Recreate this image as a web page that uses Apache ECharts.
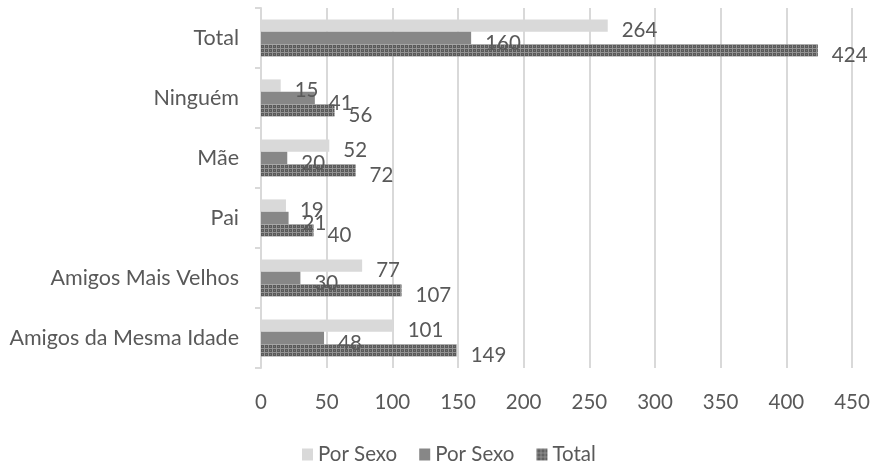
<!DOCTYPE html>
<html>
<head>
<meta charset="utf-8">
<script src="https://cdn.jsdelivr.net/npm/echarts@6/dist/echarts.min.js"></script>
<style>
  html, body { margin: 0; padding: 0; background: #ffffff; }
  #chart { width: 873px; height: 464px; }
</style>
</head>
<body>
<div id="chart"></div>
<script>
// Categories, top to bottom
const categories = ['Total', 'Ninguém', 'Mãe', 'Pai', 'Amigos Mais Velhos', 'Amigos da Mesma Idade'];

// Series values, same order as categories
const porSexoA = [264, 15, 52, 19, 77, 101];
const porSexoB = [160, 41, 20, 21, 30, 48];
const totalValues = [424, 56, 72, 40, 107, 149];

// Legend texts (the two first series share the same caption)
const seriesKeys = ['porSexoA', 'porSexoB', 'total'];
const legendLabels = ['Por Sexo', 'Por Sexo', 'Total'];

// Value axis ticks
const xTicks = [0, 50, 100, 150, 200, 250, 300, 350, 400, 450];

const FONT = 'Lato';
const TEXT = '#595959';

// Dotted fill for the "Total" bars
function dotPattern() {
  const c = document.createElement('canvas');
  c.width = 4; c.height = 4;
  const g = c.getContext('2d');
  g.fillStyle = '#5a5a5a';
  g.fillRect(0, 0, 4, 4);
  g.fillStyle = '#939393';
  g.fillRect(0, 0, 1, 4);
  g.fillRect(0, 0, 4, 1);
  g.fillStyle = '#777777';
  g.fillRect(2, 2, 1, 1);
  return c;
}

const labelCommon = {
  show: true,
  position: 'right',
  distance: 14,
  offset: [0, 5],
  color: TEXT,
  fontFamily: FONT,
  fontSize: 20.5
};

const chart = echarts.init(document.getElementById('chart'), null, { renderer: 'canvas' });

chart.setOption({
  animation: false,
  backgroundColor: '#ffffff',
  textStyle: { fontFamily: FONT },
  grid: { left: 261, right: 21, top: 8, bottom: 96, containLabel: false },
  legend: {
    data: seriesKeys,
    left: 297,
    top: 439,
    itemWidth: 11,
    itemHeight: 12,
    itemGap: 22,
    icon: 'rect',
    formatter: name => legendLabels[seriesKeys.indexOf(name)],
    textStyle: { color: TEXT, fontFamily: FONT, fontSize: 20.5 }
  },
  xAxis: {
    type: 'value',
    min: xTicks[0],
    max: xTicks[xTicks.length - 1],
    interval: 50,
    axisLine: { show: false },
    axisTick: { show: false },
    splitLine: { lineStyle: { color: '#d9d9d9', width: 2 } },
    axisLabel: { color: TEXT, fontFamily: FONT, fontSize: 20.5, margin: 24 }
  },
  yAxis: {
    type: 'category',
    inverse: true,
    data: categories,
    axisLine: { show: true, lineStyle: { color: '#d9d9d9', width: 2 } },
    axisTick: { show: true, length: 6, lineStyle: { color: '#d9d9d9', width: 2 } },
    axisLabel: { color: TEXT, fontFamily: FONT, fontSize: 21.5, margin: 22, padding: [12, 0, 0, 0] }
  },
  series: [
    {
      name: 'porSexoA',
      type: 'bar',
      data: porSexoA,
      barGap: '0%',
      barCategoryGap: '38%',
      itemStyle: { color: '#d9d9d9' },
      label: labelCommon
    },
    {
      name: 'porSexoB',
      type: 'bar',
      data: porSexoB,
      barGap: '0%',
      barCategoryGap: '38%',
      itemStyle: { color: '#878787' },
      label: labelCommon
    },
    {
      name: 'total',
      type: 'bar',
      data: totalValues,
      barGap: '0%',
      barCategoryGap: '38%',
      itemStyle: { color: { image: dotPattern(), repeat: 'repeat' } },
      label: labelCommon
    }
  ]
});
</script>
</body>
</html>
